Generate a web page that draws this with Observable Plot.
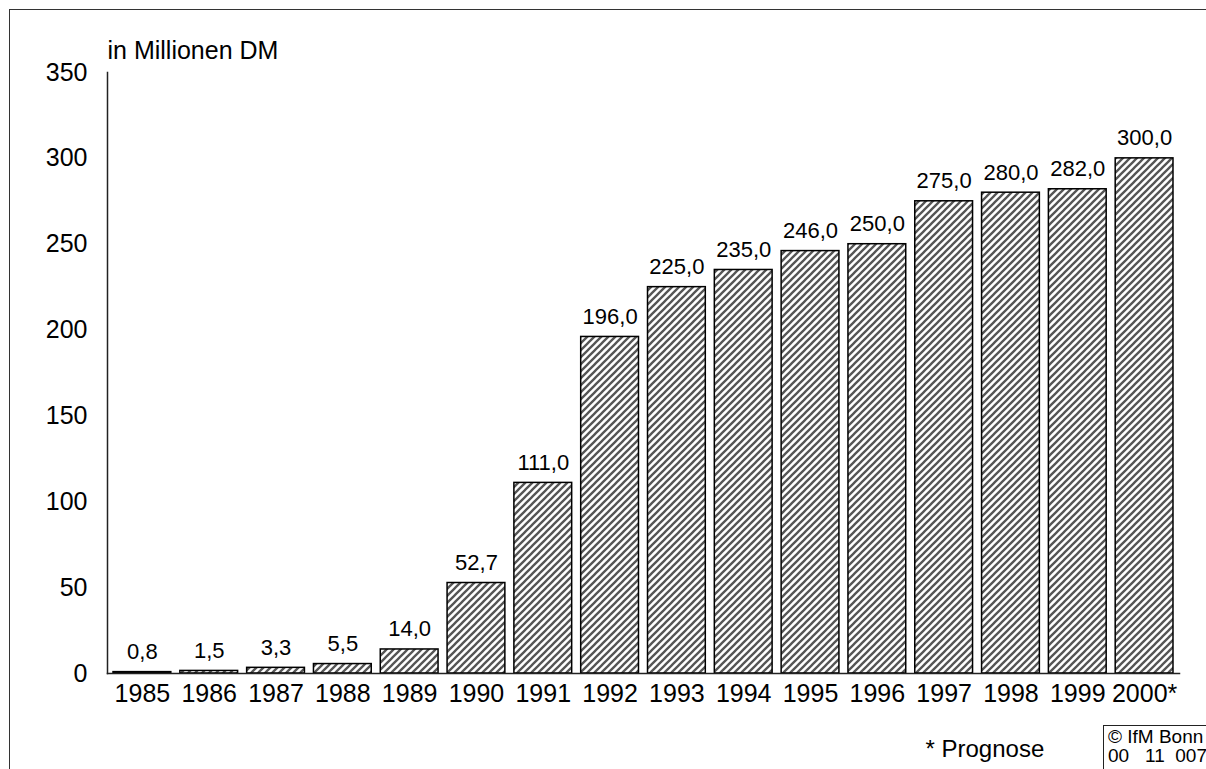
<!DOCTYPE html>
<html>
<head>
<meta charset="utf-8">
<script src="https://cdn.jsdelivr.net/npm/d3@7"></script>
<script src="https://cdn.jsdelivr.net/npm/@observablehq/plot@0.6"></script>
<style>
  html, body { margin: 0; padding: 0; background: #fff; }
  body { width: 1206px; height: 769px; position: relative; overflow: hidden; font-family: "Liberation Sans", Arial, sans-serif; }
  #frame { position: absolute; left: 9px; top: 9px; width: 1300px; height: 900px; border: 1.5px solid #333; box-sizing: border-box; }
  #chart { position: absolute; left: 0; top: 0; }
  #note { position: absolute; left: 1103px; top: 725px; width: 200px; height: 100px; border: 1.5px solid #222; box-sizing: border-box; font-size: 19px; line-height: 19px; padding: 1px 0 0 4px; color: #000; white-space: nowrap; }
</style>
</head>
<body>
<div id="frame"></div>
<div id="chart"></div>
<div id="note">© IfM Bonn<br>00&nbsp;&nbsp;&nbsp;11&nbsp;&nbsp;007</div>
<script>
const years = ["1985","1986","1987","1988","1989","1990","1991","1992","1993","1994","1995","1996","1997","1998","1999","2000*"];
const values = [0.8, 1.5, 3.3, 5.5, 14.0, 52.7, 111.0, 196.0, 225.0, 235.0, 246.0, 250.0, 275.0, 280.0, 282.0, 300.0];
const yTicks = [0, 50, 100, 150, 200, 250, 300, 350];
const unitLabel = "in Millionen DM";
const footnote = "* Prognose";

const data = years.map((y, i) => ({year: y, value: values[i]}));
const fmt = v => v.toFixed(1).replace(".", ",");

const plot = Plot.plot({
  width: 1206,
  height: 769,
  marginLeft: 107,
  marginRight: 27,
  marginTop: 72,
  marginBottom: 96,
  style: {fontFamily: "'Liberation Sans', Arial, sans-serif", background: "transparent", overflow: "visible"},
  x: {domain: years, paddingInner: 0.135, paddingOuter: 0.09, round: false, label: null},
  y: {domain: [0, 350], label: null},
  marks: [
    Plot.axisX({tickSize: 0, tickPadding: 11, fontSize: 25, label: null, fill: "#000"}),
    Plot.axisY({ticks: yTicks, tickSize: 0, tickPadding: 20, fontSize: 25, label: null, fill: "#000"}),
    Plot.barY(data, {x: "year", y: "value", fill: "url(#hatch)", stroke: "#000", strokeWidth: 1.5}),
    Plot.text(data, {x: "year", y: "value", text: d => fmt(d.value), dy: -13, lineAnchor: "bottom", fontSize: 22, fill: "#000"}),
    Plot.frame({anchor: "left", stroke: "#222", strokeWidth: 1.5}),
    Plot.frame({anchor: "bottom", stroke: "#222", strokeWidth: 1.5}),
    Plot.text([unitLabel], {frameAnchor: "top-left", textAnchor: "start", lineAnchor: "bottom", dy: -14, fontSize: 25, fill: "#000"}),
    Plot.text([footnote], {frameAnchor: "bottom-right", textAnchor: "start", lineAnchor: "bottom", dx: -254, dy: 83, fontSize: 24, fill: "#000"})
  ]
});

const svg = d3.select(plot);
const defs = svg.insert("defs", ":first-child");
const pat = defs.append("pattern")
  .attr("id", "hatch")
  .attr("patternUnits", "userSpaceOnUse")
  .attr("width", 7).attr("height", 7);
pat.append("rect").attr("width", 7).attr("height", 7).attr("fill", "#fff");
pat.append("path")
  .attr("d", "M-2,9 L9,-2 M-2,2 L2,-2 M5,9 L9,5")
  .attr("stroke", "#555").attr("stroke-width", 2.3);

document.getElementById("chart").appendChild(plot);
</script>
</body>
</html>
